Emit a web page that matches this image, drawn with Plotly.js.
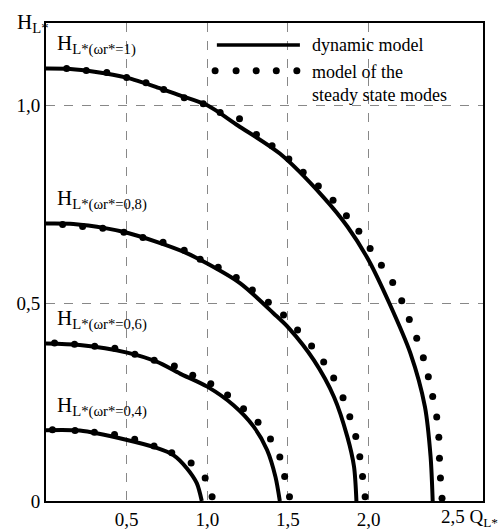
<!DOCTYPE html>
<html>
<head>
<meta charset="utf-8">
<script src="https://cdn.plot.ly/plotly-3.0.1.min.js"></script>
<style>
  body { margin: 0; background: #fff; }
  #grafica { width: 503px; height: 530px; }
</style>
</head>
<body>
<div id="grafica"></div>
<script>
// Dynamic model curves (solid)
const dyn1Q = [0, 0.15, 0.3, 0.5, 0.7, 0.83, 1.0, 1.19, 1.45, 1.72, 1.87, 2.0, 2.13, 2.26, 2.35, 2.385, 2.398];
const dyn1H = [1.093, 1.092, 1.085, 1.07, 1.044, 1.025, 1.0, 0.949, 0.878, 0.768, 0.693, 0.609, 0.499, 0.373, 0.238, 0.112, 0];
const dyn2Q = [0, 0.17, 0.375, 0.503, 0.686, 0.852, 1.0, 1.205, 1.412, 1.506, 1.661, 1.786, 1.869, 1.91, 1.925];
const dyn2H = [0.701, 0.70, 0.689, 0.678, 0.655, 0.63, 0.60, 0.55, 0.474, 0.437, 0.356, 0.263, 0.162, 0.087, 0];
const dyn3Q = [0, 0.209, 0.503, 0.686, 0.831, 1.0, 1.163, 1.288, 1.371, 1.423, 1.45];
const dyn3H = [0.398, 0.394, 0.375, 0.352, 0.322, 0.289, 0.242, 0.188, 0.129, 0.061, 0];
const dyn4Q = [0, 0.209, 0.503, 0.686, 0.79, 0.873, 0.935, 0.966];
const dyn4H = [0.179, 0.178, 0.154, 0.134, 0.116, 0.083, 0.045, 0];

// Steady state model (dots)
const st1Q = [0.128, 0.25, 0.377, 0.5, 0.62, 0.73, 0.857, 0.975, 1.08, 1.2, 1.305, 1.402, 1.506, 1.595, 1.689, 1.78, 1.863, 1.94, 2.01, 2.08, 2.15, 2.206, 2.253, 2.299, 2.34, 2.371, 2.398, 2.423, 2.436, 2.44, 2.446, 2.456];
const st1H = [1.093, 1.088, 1.083, 1.07, 1.057, 1.04, 1.019, 1.004, 0.982, 0.966, 0.926, 0.898, 0.864, 0.831, 0.796, 0.76, 0.721, 0.682, 0.638, 0.596, 0.552, 0.506, 0.459, 0.411, 0.362, 0.314, 0.264, 0.212, 0.161, 0.108, 0.058, 0.007];
const st2Q = [0.103, 0.227, 0.352, 0.483, 0.601, 0.726, 0.857, 0.956, 1.068, 1.18, 1.28, 1.379, 1.473, 1.56, 1.647, 1.722, 1.784, 1.842, 1.884, 1.921, 1.946, 1.963, 1.979];
const st2H = [0.699, 0.694, 0.689, 0.679, 0.666, 0.654, 0.634, 0.611, 0.591, 0.565, 0.533, 0.502, 0.47, 0.432, 0.392, 0.351, 0.311, 0.261, 0.213, 0.163, 0.112, 0.062, 0.011];
const st3Q = [0.053, 0.177, 0.302, 0.427, 0.551, 0.671, 0.796, 0.91, 1.022, 1.126, 1.225, 1.315, 1.392, 1.45, 1.48, 1.51];
const st3H = [0.399, 0.396, 0.391, 0.386, 0.371, 0.356, 0.341, 0.318, 0.296, 0.268, 0.233, 0.199, 0.157, 0.111, 0.062, 0.011];
const st4Q = [0.04, 0.18, 0.30, 0.425, 0.55, 0.67, 0.78, 0.9, 0.987, 1.03];
const st4H = [0.18, 0.178, 0.174, 0.168, 0.156, 0.139, 0.122, 0.096, 0.058, 0.011];

// Axis ticks
const xTicks = [0.5, 1.0, 1.5, 2.0];
const xTickText = ['0,5', '1,0', '1,5', '2,0'];
const yTicks = [0, 0.5, 1.0];
const yTickText = ['0', '0,5', '1,0'];

// Curve labels
const curveLabels = ['H<sub>L*(ωr*=1)</sub>', 'H<sub>L*(ωr*=0,8)</sub>', 'H<sub>L*(ωr*=0,6)</sub>', 'H<sub>L*(ωr*=0,4)</sub>'];
const labelY = [1.153, 0.762, 0.459, 0.24];

const legendTexts = ['dynamic model', 'model of the<br>steady state modes'];

const serif = 'Liberation Serif, Tinos, DejaVu Serif, Noto Serif, Times, serif';

function solid(q, h) {
    return { x: q, y: h, type: 'scatter', mode: 'lines',
        line: { color: '#000', width: 4, shape: 'spline', smoothing: 0.8 },
        hoverinfo: 'skip' };
}
function dots(q, h) {
    return { x: q, y: h, type: 'scatter', mode: 'markers',
        marker: { color: '#000', size: 7 }, hoverinfo: 'skip' };
}

const data = [
    solid(dyn1Q, dyn1H), solid(dyn2Q, dyn2H), solid(dyn3Q, dyn3H), solid(dyn4Q, dyn4H),
    dots(st1Q, st1H), dots(st2Q, st2H), dots(st3Q, st3H), dots(st4Q, st4H),
    // legend samples on an overlay axis (0..1 of the plot area)
    { x: [0.391, 0.581], y: [0.954, 0.954], xaxis: 'x2', yaxis: 'y2', type: 'scatter', mode: 'lines',
      line: { color: '#000', width: 3.5 }, hoverinfo: 'skip' },
    { x: [0.387, 0.435, 0.481, 0.527, 0.574], y: [0.9, 0.9, 0.9, 0.9, 0.9], xaxis: 'x2', yaxis: 'y2',
      type: 'scatter', mode: 'markers', marker: { color: '#000', size: 7 }, hoverinfo: 'skip' }
];

const annotations = curveLabels.map((t, i) => ({
    x: 0.053, y: labelY[i], xref: 'x', yref: 'y', text: t, showarrow: false,
    xanchor: 'left', yanchor: 'middle', font: { family: serif, size: 21, color: '#000' }
}));
annotations.push(
    { x: 0.604, y: 0.954, xref: 'paper', yref: 'paper', text: legendTexts[0], showarrow: false,
      xanchor: 'left', yanchor: 'middle', font: { family: serif, size: 18, color: '#000' } },
    { x: 0.604, y: 0.9, xref: 'paper', yref: 'paper', text: legendTexts[1], showarrow: false,
      xanchor: 'left', yanchor: 'top', yshift: 11, align: 'left',
      font: { family: serif, size: 18, color: '#000' } },
    { x: -0.071, y: 1.0, xref: 'paper', yref: 'paper', text: 'H<sub>L*</sub>', showarrow: false,
      xanchor: 'left', yanchor: 'middle', font: { family: serif, size: 21, color: '#000' } },
    { x: 2.5, y: 0, xref: 'x', yref: 'paper', text: '2,5 Q<sub>L*</sub>', showarrow: false,
      xanchor: 'left', yanchor: 'middle', xshift: -10, yshift: -17,
      font: { family: serif, size: 19, color: '#000' } }
);

const layout = {
    width: 503, height: 530,
    margin: { l: 46, r: 20, t: 23, b: 29 },
    paper_bgcolor: '#fff', plot_bgcolor: '#fff',
    showlegend: false,
    font: { family: serif, size: 19, color: '#000' },
    xaxis: {
        range: [0, 2.71], tickvals: xTicks, ticktext: xTickText,
        tickfont: { family: serif, size: 19, color: '#000' },
        showgrid: true, gridcolor: '#888', griddash: 'dash', gridwidth: 1,
        zeroline: false, showline: true, linecolor: '#000', linewidth: 2, mirror: true,
        ticks: '', fixedrange: true
    },
    yaxis: {
        range: [0, 1.208], tickvals: yTicks, ticktext: yTickText,
        tickfont: { family: serif, size: 19, color: '#000' },
        showgrid: true, gridcolor: '#888', griddash: 'dash', gridwidth: 1,
        zeroline: false, showline: true, linecolor: '#000', linewidth: 2, mirror: true,
        ticks: '', fixedrange: true
    },
    xaxis2: { overlaying: 'x', range: [0, 1], visible: false, fixedrange: true },
    yaxis2: { overlaying: 'y', range: [0, 1], visible: false, fixedrange: true },
    annotations: annotations
};

Plotly.newPlot('grafica', data, layout, { staticPlot: true });
</script>
</body>
</html>
